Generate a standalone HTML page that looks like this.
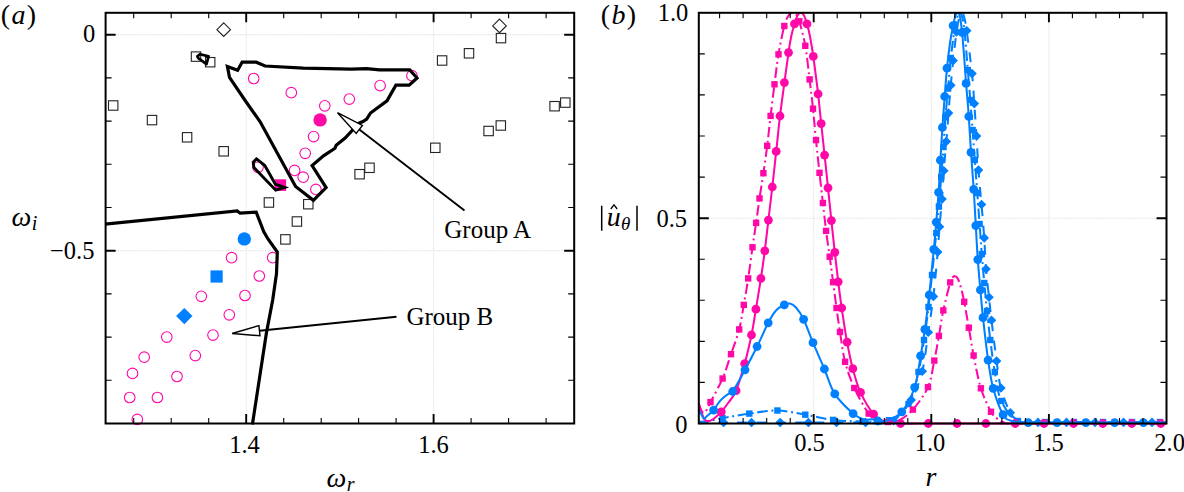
<!DOCTYPE html>
<html><head><meta charset="utf-8"><title>figure</title>
<style>html,body{margin:0;padding:0;background:#fff;}body{width:1184px;height:492px;overflow:hidden;}svg{display:block;font-family:"Liberation Serif",serif;}</style>
</head><body>
<svg width="1184" height="492" viewBox="0 0 1184 492">
<rect x="0" y="0" width="1184" height="492" fill="#ffffff"/>
<defs>
<clipPath id="ca"><rect x="105.6" y="12.8" width="468.6" height="417.7"/></clipPath>
<clipPath id="cb"><rect x="698.8" y="12.8" width="473.7" height="417.7"/></clipPath>
</defs>
<g id="plot-a">
<path d="M246.2 12.8 V423.5" stroke="#dadada" stroke-width="1" stroke-dasharray="1.2 1.25" fill="none"/>
<path d="M433.6 12.8 V423.5" stroke="#dadada" stroke-width="1" stroke-dasharray="1.2 1.25" fill="none"/>
<path d="M105.6 34.7 H574.2" stroke="#dadada" stroke-width="1" stroke-dasharray="1.2 1.25" fill="none"/>
<path d="M105.6 250.7 H574.2" stroke="#dadada" stroke-width="1" stroke-dasharray="1.2 1.25" fill="none"/>
<g clip-path="url(#ca)">
<rect x="108.5" y="100.8" width="9.4" height="9.4" fill="none" stroke="#222" stroke-width="1.1"/>
<rect x="147.3" y="115.4" width="9.4" height="9.4" fill="none" stroke="#222" stroke-width="1.1"/>
<rect x="182.4" y="132.6" width="9.4" height="9.4" fill="none" stroke="#222" stroke-width="1.1"/>
<rect x="219" y="146.6" width="9.4" height="9.4" fill="none" stroke="#222" stroke-width="1.1"/>
<rect x="191.3" y="51.9" width="9.4" height="9.4" fill="none" stroke="#222" stroke-width="1.1"/>
<rect x="205.5" y="57.5" width="9.4" height="9.4" fill="none" stroke="#222" stroke-width="1.1"/>
<rect x="264.2" y="197.8" width="9.4" height="9.4" fill="none" stroke="#222" stroke-width="1.1"/>
<rect x="303.6" y="199.5" width="9.4" height="9.4" fill="none" stroke="#222" stroke-width="1.1"/>
<rect x="292.2" y="216.8" width="9.4" height="9.4" fill="none" stroke="#222" stroke-width="1.1"/>
<rect x="280.7" y="234.7" width="9.4" height="9.4" fill="none" stroke="#222" stroke-width="1.1"/>
<rect x="354.9" y="169.5" width="9.4" height="9.4" fill="none" stroke="#222" stroke-width="1.1"/>
<rect x="364.8" y="163.1" width="9.4" height="9.4" fill="none" stroke="#222" stroke-width="1.1"/>
<rect x="430.6" y="143.1" width="9.4" height="9.4" fill="none" stroke="#222" stroke-width="1.1"/>
<rect x="483.9" y="126.3" width="9.4" height="9.4" fill="none" stroke="#222" stroke-width="1.1"/>
<rect x="496.1" y="120.8" width="9.4" height="9.4" fill="none" stroke="#222" stroke-width="1.1"/>
<rect x="437.4" y="55.8" width="9.4" height="9.4" fill="none" stroke="#222" stroke-width="1.1"/>
<rect x="464.3" y="48.6" width="9.4" height="9.4" fill="none" stroke="#222" stroke-width="1.1"/>
<rect x="496.3" y="33.4" width="9.4" height="9.4" fill="none" stroke="#222" stroke-width="1.1"/>
<rect x="549.9" y="101.5" width="9.4" height="9.4" fill="none" stroke="#222" stroke-width="1.1"/>
<rect x="560.6" y="97.9" width="9.4" height="9.4" fill="none" stroke="#222" stroke-width="1.1"/>
<path d="M223.7 22.9 l6.8 6.8 l-6.8 6.8 l-6.8 -6.8 Z" fill="none" stroke="#222" stroke-width="1.1"/>
<path d="M499.5 19.1 l6.8 6.8 l-6.8 6.8 l-6.8 -6.8 Z" fill="none" stroke="#222" stroke-width="1.1"/>
<circle cx="253.7" cy="78.5" r="5.3" fill="none" stroke="#ff08a8" stroke-width="1.1"/>
<circle cx="291.3" cy="92.7" r="5.3" fill="none" stroke="#ff08a8" stroke-width="1.1"/>
<circle cx="324.8" cy="105.8" r="5.3" fill="none" stroke="#ff08a8" stroke-width="1.1"/>
<circle cx="349.3" cy="99.1" r="5.3" fill="none" stroke="#ff08a8" stroke-width="1.1"/>
<circle cx="380.1" cy="85.6" r="5.3" fill="none" stroke="#ff08a8" stroke-width="1.1"/>
<circle cx="411.9" cy="75.7" r="5.3" fill="none" stroke="#ff08a8" stroke-width="1.1"/>
<circle cx="313.6" cy="136.6" r="5.3" fill="none" stroke="#ff08a8" stroke-width="1.1"/>
<circle cx="305.2" cy="153.3" r="5.3" fill="none" stroke="#ff08a8" stroke-width="1.1"/>
<circle cx="294.6" cy="170.4" r="5.3" fill="none" stroke="#ff08a8" stroke-width="1.1"/>
<circle cx="303.2" cy="177.2" r="5.3" fill="none" stroke="#ff08a8" stroke-width="1.1"/>
<circle cx="315.9" cy="189.4" r="5.3" fill="none" stroke="#ff08a8" stroke-width="1.1"/>
<circle cx="258" cy="167.3" r="5.3" fill="none" stroke="#ff08a8" stroke-width="1.1"/>
<circle cx="231.6" cy="257.7" r="5.3" fill="none" stroke="#ff08a8" stroke-width="1.1"/>
<circle cx="272.7" cy="257.7" r="5.3" fill="none" stroke="#ff08a8" stroke-width="1.1"/>
<circle cx="259.3" cy="276" r="5.3" fill="none" stroke="#ff08a8" stroke-width="1.1"/>
<circle cx="201.3" cy="296.3" r="5.3" fill="none" stroke="#ff08a8" stroke-width="1.1"/>
<circle cx="245" cy="295.5" r="5.3" fill="none" stroke="#ff08a8" stroke-width="1.1"/>
<circle cx="229.3" cy="314.8" r="5.3" fill="none" stroke="#ff08a8" stroke-width="1.1"/>
<circle cx="166.8" cy="337.1" r="5.3" fill="none" stroke="#ff08a8" stroke-width="1.1"/>
<circle cx="213" cy="335.1" r="5.3" fill="none" stroke="#ff08a8" stroke-width="1.1"/>
<circle cx="144.2" cy="357.2" r="5.3" fill="none" stroke="#ff08a8" stroke-width="1.1"/>
<circle cx="195.3" cy="355.6" r="5.3" fill="none" stroke="#ff08a8" stroke-width="1.1"/>
<circle cx="132.5" cy="373.4" r="5.3" fill="none" stroke="#ff08a8" stroke-width="1.1"/>
<circle cx="177" cy="376.5" r="5.3" fill="none" stroke="#ff08a8" stroke-width="1.1"/>
<circle cx="129.7" cy="397.5" r="5.3" fill="none" stroke="#ff08a8" stroke-width="1.1"/>
<circle cx="157.4" cy="397.5" r="5.3" fill="none" stroke="#ff08a8" stroke-width="1.1"/>
<circle cx="137.3" cy="419.4" r="5.3" fill="none" stroke="#ff08a8" stroke-width="1.1"/>
<path d="M227.4 66.4 L237.6 70.3 L242.2 62 L256.2 62.2 L265.1 66 L303.2 68.1 L351.5 69.1 L366.7 68.6 L379.4 69.9 L409.8 69.9 L417 78 L409.1 85.1 L395.9 85.1 L387 100.8 L370.5 113 L366.7 119 L362.9 121.6 L359 123.2 L345.1 138.1 L336.2 145.2 L335 148.3 L323.5 155.9 L312.1 165.5 L326.1 187.6 L313.4 200.3 L295.6 186.4 L260 121.6 L244.8 100 L229.5 77.5 Z" stroke="#000" stroke-width="3.2" fill="none" stroke-linejoin="miter" stroke-linecap="butt"/>
<path d="M197.3 56.4 L200.2 54.2 L208.6 56.4 L206.5 64.2 L198.3 58.2 Z" stroke="#000" stroke-width="2.7" fill="none" stroke-linejoin="round" stroke-linecap="butt"/>
<path d="M104 224.2 L237.2 210.9 L240.2 213.2 L256.2 212.2 L263.8 231.8 L268 239 L277.3 252.1 L276.5 273.7 L272.7 300 L266.4 333 L252.4 424.5" stroke="#000" stroke-width="3.2" fill="none" stroke-linejoin="miter" stroke-linecap="butt"/>
<rect x="274.5" y="179.3" width="11.6" height="11.6" fill="#ff08a8"/>
<path d="M256.5 158.9 L264.8 165.5 L275.4 184.2 L284.6 187.4 L275.7 190.2 L253.9 167.5 L253.2 162.2 Z" stroke="#000" stroke-width="2.9" fill="none" stroke-linejoin="miter" stroke-linecap="butt"/>
<circle cx="320.1" cy="119.9" r="6.7" fill="#ff08a8"/>
<circle cx="244.3" cy="238.9" r="6.7" fill="#0080ff"/>
<rect x="210.5" y="270.4" width="12.2" height="12.2" fill="#0080ff"/>
<path d="M184.3 307.9 l8.2 8.2 l-8.2 8.2 l-8.2 -8.2 Z" fill="#0080ff"/>
<path d="M359.3 129.5 L464.5 210.5" stroke="#000" stroke-width="1.9" fill="none"/>
<path d="M337.5 112.7 L356.2 133.5 L362.4 125.4 Z" stroke="#000" stroke-width="1.4" fill="#fff" stroke-linejoin="miter"/>
<path d="M259.5 330.7 L396.5 316.8" stroke="#000" stroke-width="1.9" fill="none"/>
<path d="M232.1 333.5 L260 335.8 L258.9 325.6 Z" stroke="#000" stroke-width="1.4" fill="#fff" stroke-linejoin="miter"/>
</g>
<path d="M133.7 12.8 v5.5 M133.7 423.5 v-5.5 M171.2 12.8 v5.5 M171.2 423.5 v-5.5 M208.7 12.8 v5.5 M208.7 423.5 v-5.5 M283.7 12.8 v5.5 M283.7 423.5 v-5.5 M321.2 12.8 v5.5 M321.2 423.5 v-5.5 M358.6 12.8 v5.5 M358.6 423.5 v-5.5 M396.1 12.8 v5.5 M396.1 423.5 v-5.5 M471.1 12.8 v5.5 M471.1 423.5 v-5.5 M508.6 12.8 v5.5 M508.6 423.5 v-5.5 M546.1 12.8 v5.5 M546.1 423.5 v-5.5 M105.6 77.9 h6 M574.2 77.9 h-6 M105.6 121.1 h6 M574.2 121.1 h-6 M105.6 164.3 h6 M574.2 164.3 h-6 M105.6 207.5 h6 M574.2 207.5 h-6 M105.6 293.9 h6 M574.2 293.9 h-6 M105.6 337.1 h6 M574.2 337.1 h-6 M105.6 380.3 h6 M574.2 380.3 h-6 M105.6 423.5 h6 M574.2 423.5 h-6" stroke="#000" stroke-width="1.1" fill="none"/>
<path d="M246.2 12.8 v9.5 M246.2 423.5 v-9.5 M433.6 12.8 v9.5 M433.6 423.5 v-9.5 M105.6 34.7 h10 M574.2 34.7 h-10 M105.6 250.7 h10 M574.2 250.7 h-10" stroke="#000" stroke-width="1.9" fill="none"/>
<rect x="105.6" y="12.8" width="468.6" height="410.7" fill="none" stroke="#000" stroke-width="2.0"/>
<g font-size="24.5" fill="#000">
<text x="0.8" y="24.3" font-size="28" letter-spacing="1.3">(<tspan font-style="italic">a</tspan>)</text>
<text x="95.2" y="42" text-anchor="end">0</text>
<text x="94.5" y="259.3" text-anchor="end">−0.5</text>
<text x="244.5" y="453" text-anchor="middle">1.4</text>
<text x="433.5" y="453" text-anchor="middle">1.6</text>
<text x="11.5" y="225.5" font-style="italic" font-size="28">ω<tspan font-size="20" dy="4.3" dx="0.5">i</tspan></text>
<text x="326.5" y="487" font-style="italic" font-size="28">ω<tspan font-size="20" dy="4.3" dx="0.5">r</tspan></text>
<text x="444.3" y="237.6" font-size="25">Group A</text>
<text x="406.4" y="325" font-size="25">Group B</text>
</g>
</g>
<g id="plot-b">
<path d="M813.7 12.8 V423.5" stroke="#dadada" stroke-width="1" stroke-dasharray="1.2 1.25" fill="none"/>
<path d="M931.3 12.8 V423.5" stroke="#dadada" stroke-width="1" stroke-dasharray="1.2 1.25" fill="none"/>
<path d="M1048.9 12.8 V423.5" stroke="#dadada" stroke-width="1" stroke-dasharray="1.2 1.25" fill="none"/>
<path d="M1166.5 12.8 V423.5" stroke="#dadada" stroke-width="1" stroke-dasharray="1.2 1.25" fill="none"/>
<path d="M698.8 218.2 H1166.5" stroke="#dadada" stroke-width="1" stroke-dasharray="1.2 1.25" fill="none"/>
<g clip-path="url(#cb)">
<path d="M698.7 421.8 C700.2 421.7 704 421.6 708 421 C712 420.4 715.6 419.4 722.5 418.2 C729.4 417 740.1 414.9 749.3 413.6 C758.4 412.3 768.1 410.3 777.4 410.5 C786.7 410.7 796 413.1 805.3 414.7 C814.6 416.3 823.6 418.8 833.1 419.9 C842.6 421 853.2 421.3 862.5 421.4 C871.8 421.4 881.3 423.1 889 420.2 C896.7 417.3 903.6 412 908.5 404 C913.4 396 915.9 382.7 918.5 372 C921.1 361.3 922.3 350.8 924 340 C925.7 329.2 927.2 317.8 928.5 307 C929.8 296.2 930.7 287.3 932 275 C933.3 262.7 935.1 244.5 936.3 233.1 C937.4 221.7 938.1 215.9 938.9 206.6 C939.7 197.2 940.4 186.9 941.2 177 C942 167.1 942.8 157 943.5 147 C944.2 137 944.6 126.9 945.4 117.2 C946.2 107.5 947.2 98.5 948.1 88.6 C949 78.7 949.6 68.3 950.8 58 C951.9 47.7 953.9 33.9 955 27 C956.1 20.1 956.7 18.9 957.5 16.5 C958.3 14.1 959 12.4 959.7 12.4 C960.5 12.4 961.2 13.4 962 16.5 C962.8 19.6 963.5 22.1 964.5 31 C965.5 39.9 966.8 58.5 967.8 70 C968.8 81.5 969.5 90 970.3 100 C971.1 110 971.8 120 972.6 130 C973.3 140 974 149.5 974.8 160 C975.6 170.5 976.5 182.3 977.3 193 C978.1 203.7 978.8 213.8 979.6 224 C980.3 234.2 981 244.2 981.8 254 C982.6 263.8 983.4 273.5 984.3 283 C985.2 292.5 986 301.5 987 311 C988 320.5 989 329.8 990.3 340 C991.6 350.2 993 361.8 994.8 372 C996.6 382.2 997.4 392.8 1001.3 401 C1005.2 409.2 1010.7 417.5 1018 421 C1025.3 424.5 1035.7 421.8 1045 422 C1054.3 422.2 1064.3 422 1074 422 C1083.7 422 1093.3 422 1103 422 C1112.7 422 1122.5 422 1132 422 C1141.5 422 1154.2 422 1160 422 C1165.8 422 1165.4 422 1166.5 422" fill="none" stroke="#0080ff" stroke-width="2.05" stroke-dasharray="10.5 3.7 1.9 3.7"/>
<rect x="719.3" y="415" width="6.4" height="6.4" fill="#0080ff"/>
<rect x="746.1" y="410.4" width="6.4" height="6.4" fill="#0080ff"/>
<rect x="774.2" y="407.3" width="6.4" height="6.4" fill="#0080ff"/>
<rect x="802.1" y="411.5" width="6.4" height="6.4" fill="#0080ff"/>
<rect x="829.9" y="416.7" width="6.4" height="6.4" fill="#0080ff"/>
<rect x="859.3" y="418.2" width="6.4" height="6.4" fill="#0080ff"/>
<rect x="885.8" y="417" width="6.4" height="6.4" fill="#0080ff"/>
<rect x="905.3" y="400.8" width="6.4" height="6.4" fill="#0080ff"/>
<rect x="915.3" y="368.8" width="6.4" height="6.4" fill="#0080ff"/>
<rect x="920.8" y="336.8" width="6.4" height="6.4" fill="#0080ff"/>
<rect x="925.3" y="303.8" width="6.4" height="6.4" fill="#0080ff"/>
<rect x="928.8" y="271.8" width="6.4" height="6.4" fill="#0080ff"/>
<rect x="933.1" y="229.9" width="6.4" height="6.4" fill="#0080ff"/>
<rect x="935.7" y="203.4" width="6.4" height="6.4" fill="#0080ff"/>
<rect x="938" y="173.8" width="6.4" height="6.4" fill="#0080ff"/>
<rect x="940.3" y="143.8" width="6.4" height="6.4" fill="#0080ff"/>
<rect x="942.2" y="114" width="6.4" height="6.4" fill="#0080ff"/>
<rect x="944.9" y="85.4" width="6.4" height="6.4" fill="#0080ff"/>
<rect x="947.6" y="54.8" width="6.4" height="6.4" fill="#0080ff"/>
<rect x="951.8" y="23.8" width="6.4" height="6.4" fill="#0080ff"/>
<rect x="961.3" y="27.8" width="6.4" height="6.4" fill="#0080ff"/>
<rect x="964.6" y="66.8" width="6.4" height="6.4" fill="#0080ff"/>
<rect x="967.1" y="96.8" width="6.4" height="6.4" fill="#0080ff"/>
<rect x="969.4" y="126.8" width="6.4" height="6.4" fill="#0080ff"/>
<rect x="971.6" y="156.8" width="6.4" height="6.4" fill="#0080ff"/>
<rect x="974.1" y="189.8" width="6.4" height="6.4" fill="#0080ff"/>
<rect x="976.4" y="220.8" width="6.4" height="6.4" fill="#0080ff"/>
<rect x="978.6" y="250.8" width="6.4" height="6.4" fill="#0080ff"/>
<rect x="981.1" y="279.8" width="6.4" height="6.4" fill="#0080ff"/>
<rect x="983.8" y="307.8" width="6.4" height="6.4" fill="#0080ff"/>
<rect x="987.1" y="336.8" width="6.4" height="6.4" fill="#0080ff"/>
<rect x="991.6" y="368.8" width="6.4" height="6.4" fill="#0080ff"/>
<rect x="998.1" y="397.8" width="6.4" height="6.4" fill="#0080ff"/>
<rect x="1014.8" y="417.8" width="6.4" height="6.4" fill="#0080ff"/>
<rect x="1041.8" y="418.8" width="6.4" height="6.4" fill="#0080ff"/>
<rect x="1070.8" y="418.8" width="6.4" height="6.4" fill="#0080ff"/>
<rect x="1099.8" y="418.8" width="6.4" height="6.4" fill="#0080ff"/>
<rect x="1128.8" y="418.8" width="6.4" height="6.4" fill="#0080ff"/>
<rect x="1156.8" y="418.8" width="6.4" height="6.4" fill="#0080ff"/>
<path d="M698.7 423.3 C702.9 423.2 714.8 422.6 723.6 422.5 C732.4 422.4 742.1 422.5 751.5 422.5 C760.9 422.5 770.7 422.5 780.2 422.5 C789.7 422.5 799 422.5 808.4 422.5 C817.8 422.5 827 422.5 836.5 422.5 C846 422.5 858.4 422.3 865.6 422.5 C872.9 422.7 875.4 423.8 880 423.5 C884.6 423.2 888.3 424.7 893.5 420.8 C898.7 416.9 906.4 408.2 911.2 399.9 C916 391.6 919.4 382.5 922.3 371.2 C925.1 359.9 926.4 344.8 928.3 332.3 C930.1 319.8 931.8 309.8 933.4 296.4 C935 283 936.7 263.6 937.7 252 C938.7 240.4 938.8 235.5 939.5 226.7 C940.2 217.9 941.3 208.4 942 199.1 C942.7 189.8 943.1 180.3 943.8 170.7 C944.5 161.1 945.5 151.1 946.3 141.5 C947.1 131.9 947.8 122.5 948.5 113.1 C949.2 103.7 950 94 950.8 85.2 C951.6 76.5 952.1 69.5 953.1 60.6 C954.1 51.7 955.5 39 956.5 32 C957.5 25 958.2 21.7 959 18.5 C959.8 15.3 960.7 12.9 961.5 12.6 C962.3 12.3 963.1 13.5 964 16.5 C964.9 19.5 965.4 21.2 966.7 30.7 C968 40.2 970.7 61.4 972 73.6 C973.3 85.8 973.5 93.2 974.3 103.6 C975 114 975.8 125 976.5 136.1 C977.2 147.2 977.7 158.7 978.5 170.1 C979.3 181.5 980.5 193.2 981.5 204.5 C982.5 215.8 983.5 227.2 984.2 237.9 C985 248.7 985.2 259.1 986 269 C986.8 278.9 988.1 288.6 989 297.2 C989.9 305.8 990.2 309.7 991.5 320.3 C992.8 330.9 995 349.7 996.6 361 C998.2 372.3 998.6 379.4 1000.9 388 C1003.2 396.6 1007.3 407.3 1010.3 412.7 C1013.3 418.1 1014.4 418.7 1019 420.3 C1023.6 421.9 1030.1 422 1038 422.4 C1045.9 422.8 1057 422.4 1066.5 422.4 C1076 422.4 1085.5 422.4 1095 422.4 C1104.5 422.4 1114 422.4 1123.5 422.4 C1133 422.4 1144.8 422.4 1152 422.4 C1159.2 422.4 1164.1 422.4 1166.5 422.4" fill="none" stroke="#0080ff" stroke-width="2.05" stroke-dasharray="9.8 9.5"/>
<path d="M723.6 417.7 l4.8 4.8 l-4.8 4.8 l-4.8 -4.8 Z" fill="#0080ff"/>
<path d="M751.5 417.7 l4.8 4.8 l-4.8 4.8 l-4.8 -4.8 Z" fill="#0080ff"/>
<path d="M780.2 417.7 l4.8 4.8 l-4.8 4.8 l-4.8 -4.8 Z" fill="#0080ff"/>
<path d="M808.4 417.7 l4.8 4.8 l-4.8 4.8 l-4.8 -4.8 Z" fill="#0080ff"/>
<path d="M836.5 417.7 l4.8 4.8 l-4.8 4.8 l-4.8 -4.8 Z" fill="#0080ff"/>
<path d="M865.6 417.7 l4.8 4.8 l-4.8 4.8 l-4.8 -4.8 Z" fill="#0080ff"/>
<path d="M893.5 416 l4.8 4.8 l-4.8 4.8 l-4.8 -4.8 Z" fill="#0080ff"/>
<path d="M911.2 395.1 l4.8 4.8 l-4.8 4.8 l-4.8 -4.8 Z" fill="#0080ff"/>
<path d="M922.3 366.4 l4.8 4.8 l-4.8 4.8 l-4.8 -4.8 Z" fill="#0080ff"/>
<path d="M928.3 327.5 l4.8 4.8 l-4.8 4.8 l-4.8 -4.8 Z" fill="#0080ff"/>
<path d="M933.4 291.6 l4.8 4.8 l-4.8 4.8 l-4.8 -4.8 Z" fill="#0080ff"/>
<path d="M937.7 247.2 l4.8 4.8 l-4.8 4.8 l-4.8 -4.8 Z" fill="#0080ff"/>
<path d="M939.5 221.9 l4.8 4.8 l-4.8 4.8 l-4.8 -4.8 Z" fill="#0080ff"/>
<path d="M942 194.3 l4.8 4.8 l-4.8 4.8 l-4.8 -4.8 Z" fill="#0080ff"/>
<path d="M943.8 165.9 l4.8 4.8 l-4.8 4.8 l-4.8 -4.8 Z" fill="#0080ff"/>
<path d="M946.3 136.7 l4.8 4.8 l-4.8 4.8 l-4.8 -4.8 Z" fill="#0080ff"/>
<path d="M948.5 108.3 l4.8 4.8 l-4.8 4.8 l-4.8 -4.8 Z" fill="#0080ff"/>
<path d="M950.8 80.4 l4.8 4.8 l-4.8 4.8 l-4.8 -4.8 Z" fill="#0080ff"/>
<path d="M953.1 55.8 l4.8 4.8 l-4.8 4.8 l-4.8 -4.8 Z" fill="#0080ff"/>
<path d="M956.5 27.2 l4.8 4.8 l-4.8 4.8 l-4.8 -4.8 Z" fill="#0080ff"/>
<path d="M966.7 25.9 l4.8 4.8 l-4.8 4.8 l-4.8 -4.8 Z" fill="#0080ff"/>
<path d="M972 68.8 l4.8 4.8 l-4.8 4.8 l-4.8 -4.8 Z" fill="#0080ff"/>
<path d="M974.3 98.8 l4.8 4.8 l-4.8 4.8 l-4.8 -4.8 Z" fill="#0080ff"/>
<path d="M976.5 131.3 l4.8 4.8 l-4.8 4.8 l-4.8 -4.8 Z" fill="#0080ff"/>
<path d="M978.5 165.3 l4.8 4.8 l-4.8 4.8 l-4.8 -4.8 Z" fill="#0080ff"/>
<path d="M981.5 199.7 l4.8 4.8 l-4.8 4.8 l-4.8 -4.8 Z" fill="#0080ff"/>
<path d="M984.2 233.1 l4.8 4.8 l-4.8 4.8 l-4.8 -4.8 Z" fill="#0080ff"/>
<path d="M986 264.2 l4.8 4.8 l-4.8 4.8 l-4.8 -4.8 Z" fill="#0080ff"/>
<path d="M989 292.4 l4.8 4.8 l-4.8 4.8 l-4.8 -4.8 Z" fill="#0080ff"/>
<path d="M991.5 315.5 l4.8 4.8 l-4.8 4.8 l-4.8 -4.8 Z" fill="#0080ff"/>
<path d="M996.6 356.2 l4.8 4.8 l-4.8 4.8 l-4.8 -4.8 Z" fill="#0080ff"/>
<path d="M1000.9 383.2 l4.8 4.8 l-4.8 4.8 l-4.8 -4.8 Z" fill="#0080ff"/>
<path d="M1010.3 407.9 l4.8 4.8 l-4.8 4.8 l-4.8 -4.8 Z" fill="#0080ff"/>
<path d="M1038 417.6 l4.8 4.8 l-4.8 4.8 l-4.8 -4.8 Z" fill="#0080ff"/>
<path d="M1066.5 417.6 l4.8 4.8 l-4.8 4.8 l-4.8 -4.8 Z" fill="#0080ff"/>
<path d="M1095 417.6 l4.8 4.8 l-4.8 4.8 l-4.8 -4.8 Z" fill="#0080ff"/>
<path d="M1123.5 417.6 l4.8 4.8 l-4.8 4.8 l-4.8 -4.8 Z" fill="#0080ff"/>
<path d="M1152 417.6 l4.8 4.8 l-4.8 4.8 l-4.8 -4.8 Z" fill="#0080ff"/>
<path d="M698.7 403.5 C699.2 404.7 700.6 408.9 701.5 410.5 C702.4 412.1 703.1 413.2 704 413 C704.9 412.8 705.9 411.3 707 409.5 C708.1 407.7 707.9 407.3 710.5 402.1 C713.1 396.9 719.2 386.5 722.6 378.5 C726 370.5 728.2 362.4 731 354.2 C733.8 346 737.1 337.6 739.2 329.4 C741.3 321.2 742.3 313.4 743.8 304.9 C745.3 296.4 746.8 288 748.2 278.4 C749.7 268.8 751.2 256.6 752.5 247.3 C753.8 238.1 754.9 231.1 756.1 222.9 C757.3 214.8 758.3 206.7 759.5 198.4 C760.7 190.1 762.1 182 763.4 173.2 C764.7 164.4 766 155.4 767.2 145.8 C768.4 136.2 769.4 126.2 770.6 115.9 C771.8 105.7 773.2 94.6 774.5 84.3 C775.8 74 776.9 64 778.5 54.3 C780.1 44.6 782.6 32.5 784.3 26 C786 19.5 787.1 17.8 788.5 15.5 C789.9 13.2 791.2 12.6 792.5 12.4 C793.8 12.2 794.9 13 796 14.5 C797.1 16 797.8 16.1 799.3 21.3 C800.8 26.5 803.6 36.1 805.3 45.8 C807 55.5 808.3 68.9 809.6 79.4 C810.9 89.9 811.9 98.6 813 108.7 C814.1 118.8 814.9 129.4 816 140.1 C817.1 150.8 818.4 162.3 819.5 172.8 C820.6 183.3 821.8 193.3 822.9 203 C824 212.7 825 222 826.1 230.9 C827.2 239.8 828.5 248.1 829.7 256.7 C830.9 265.2 832 273.6 833.1 282.2 C834.2 290.8 835.4 299.7 836.5 308 C837.6 316.3 838.6 323 840 332 C841.4 341 842.7 352.5 845.1 361.8 C847.5 371.1 850.4 379.4 854.3 388 C858.2 396.6 864.8 408.2 868.7 413.6 C872.7 419 874.8 419 878 420.5 C881.2 422 884.5 422.6 888 422.6 C891.5 422.6 894.9 422.7 899 420.5 C903.1 418.3 908.1 415.2 912.9 409.6 C917.7 404 924.4 395.3 928 387.1 C931.6 378.9 932.5 369.1 934.3 360.6 C936.1 352.1 937.4 344.3 938.9 335.9 C940.4 327.5 941.4 319.3 943.3 310.4 C945.2 301.5 948.7 287.9 950.2 282.4 C951.7 276.9 951.7 278.5 952.5 277.5 C953.3 276.5 954.1 275.9 955 276.2 C955.9 276.4 957 277 958 279 C959 281 960 284.2 961 288 C962 291.8 962.9 295.2 964.2 301.8 C965.5 308.4 967.2 318.8 968.8 327.7 C970.4 336.6 971.6 345.4 973.6 355.5 C975.6 365.6 978 378.9 980.9 388.3 C983.8 397.7 988.3 406.8 991 411.8 C993.7 416.8 994.8 416.7 997 418.5 C999.2 420.3 1001 421.7 1004 422.5 C1007 423.3 987.9 423.3 1015 423.5 C1042.1 423.7 1141.2 423.5 1166.5 423.5" fill="none" stroke="#ff08a8" stroke-width="2.05" stroke-dasharray="10.5 3.7 1.9 3.7"/>
<rect x="707.3" y="398.9" width="6.4" height="6.4" fill="#ff08a8"/>
<rect x="719.4" y="375.3" width="6.4" height="6.4" fill="#ff08a8"/>
<rect x="727.8" y="351" width="6.4" height="6.4" fill="#ff08a8"/>
<rect x="736" y="326.2" width="6.4" height="6.4" fill="#ff08a8"/>
<rect x="740.6" y="301.7" width="6.4" height="6.4" fill="#ff08a8"/>
<rect x="745" y="275.2" width="6.4" height="6.4" fill="#ff08a8"/>
<rect x="749.3" y="244.1" width="6.4" height="6.4" fill="#ff08a8"/>
<rect x="752.9" y="219.7" width="6.4" height="6.4" fill="#ff08a8"/>
<rect x="756.3" y="195.2" width="6.4" height="6.4" fill="#ff08a8"/>
<rect x="760.2" y="170" width="6.4" height="6.4" fill="#ff08a8"/>
<rect x="764" y="142.6" width="6.4" height="6.4" fill="#ff08a8"/>
<rect x="767.4" y="112.7" width="6.4" height="6.4" fill="#ff08a8"/>
<rect x="771.3" y="81.1" width="6.4" height="6.4" fill="#ff08a8"/>
<rect x="775.3" y="51.1" width="6.4" height="6.4" fill="#ff08a8"/>
<rect x="781.1" y="22.8" width="6.4" height="6.4" fill="#ff08a8"/>
<rect x="796.1" y="18.1" width="6.4" height="6.4" fill="#ff08a8"/>
<rect x="802.1" y="42.6" width="6.4" height="6.4" fill="#ff08a8"/>
<rect x="806.4" y="76.2" width="6.4" height="6.4" fill="#ff08a8"/>
<rect x="809.8" y="105.5" width="6.4" height="6.4" fill="#ff08a8"/>
<rect x="812.8" y="136.9" width="6.4" height="6.4" fill="#ff08a8"/>
<rect x="816.3" y="169.6" width="6.4" height="6.4" fill="#ff08a8"/>
<rect x="819.7" y="199.8" width="6.4" height="6.4" fill="#ff08a8"/>
<rect x="822.9" y="227.7" width="6.4" height="6.4" fill="#ff08a8"/>
<rect x="826.5" y="253.5" width="6.4" height="6.4" fill="#ff08a8"/>
<rect x="829.9" y="279" width="6.4" height="6.4" fill="#ff08a8"/>
<rect x="833.3" y="304.8" width="6.4" height="6.4" fill="#ff08a8"/>
<rect x="836.8" y="328.8" width="6.4" height="6.4" fill="#ff08a8"/>
<rect x="841.9" y="358.6" width="6.4" height="6.4" fill="#ff08a8"/>
<rect x="851.1" y="384.8" width="6.4" height="6.4" fill="#ff08a8"/>
<rect x="865.5" y="410.4" width="6.4" height="6.4" fill="#ff08a8"/>
<rect x="884.8" y="418.8" width="6.4" height="6.4" fill="#ff08a8"/>
<rect x="909.7" y="406.4" width="6.4" height="6.4" fill="#ff08a8"/>
<rect x="924.8" y="383.9" width="6.4" height="6.4" fill="#ff08a8"/>
<rect x="931.1" y="357.4" width="6.4" height="6.4" fill="#ff08a8"/>
<rect x="935.7" y="332.7" width="6.4" height="6.4" fill="#ff08a8"/>
<rect x="940.1" y="307.2" width="6.4" height="6.4" fill="#ff08a8"/>
<rect x="947" y="279.2" width="6.4" height="6.4" fill="#ff08a8"/>
<rect x="961" y="298.6" width="6.4" height="6.4" fill="#ff08a8"/>
<rect x="965.6" y="324.5" width="6.4" height="6.4" fill="#ff08a8"/>
<rect x="970.4" y="352.3" width="6.4" height="6.4" fill="#ff08a8"/>
<rect x="977.7" y="385.1" width="6.4" height="6.4" fill="#ff08a8"/>
<rect x="987.8" y="408.6" width="6.4" height="6.4" fill="#ff08a8"/>
<path d="M698.7 403.5 C699.2 405 700.5 409.9 701.5 412.5 C702.5 415.1 703.5 417.9 704.5 419.3 C705.5 420.8 706.2 421.1 707.5 421.2 C708.8 421.3 710.5 420.6 712 419.8 C713.5 419 715 417.8 716.5 416.5 C718 415.2 719.3 414.1 721.3 411.8 C723.3 409.5 726 406 728.5 402.5 C731 399 733.4 397.1 736.1 390.6 C738.8 384.1 742.1 372.9 744.7 363.6 C747.3 354.3 749.6 344.1 751.5 335 C753.4 325.9 754.3 318.6 755.9 309.2 C757.5 299.8 759.4 288.1 760.9 278.4 C762.4 268.7 763.5 260.5 764.8 250.8 C766 241.1 767.1 230.7 768.4 220.1 C769.6 209.5 771 198.4 772.3 187 C773.6 175.6 774.9 163.2 776.2 151.4 C777.5 139.6 778.6 127.5 780 116 C781.4 104.5 783 93.2 784.4 82.6 C785.8 72 787.4 60.4 788.5 52.6 C789.6 44.8 790.3 40.8 791.3 36 C792.3 31.2 793.5 27.3 794.5 23.9 C795.5 20.5 796.5 17.4 797.5 15.5 C798.5 13.6 799.6 12.4 800.7 12.4 C801.8 12.4 803 13.6 804 15.5 C805 17.4 806 20.4 807 23.9 C808 27.4 809 31.1 810 36.5 C811 41.9 811.9 46.8 813.3 56.4 C814.6 66 816.8 82.8 818.1 94 C819.4 105.2 820.1 113.4 821.2 123.6 C822.3 133.8 823.5 144.4 824.6 155.1 C825.7 165.8 826.9 176.9 828 187.8 C829.1 198.7 830.3 209.8 831.4 220.6 C832.5 231.3 833.7 242.1 834.8 252.3 C835.9 262.5 837.1 272.5 838.2 281.8 C839.4 291.1 840.2 297.9 841.7 308 C843.2 318.1 845.2 332.1 847.1 342.2 C849 352.3 850.6 360.3 852.8 368.7 C855 377.1 857 384.8 860.5 392.4 C864 400 869.5 409.2 873.6 414.1 C877.7 419 880.5 420 885 421.6 C889.5 423.2 893.3 423.2 900.5 423.5 C907.7 423.8 918.9 423.5 928.3 423.5 C937.7 423.5 947.4 423.5 957 423.5 C966.6 423.5 976.2 423.5 985.9 423.5 C995.6 423.5 1005.5 423.5 1015.2 423.5 C1024.9 423.5 1034.3 423.5 1044 423.5 C1053.7 423.5 1063.7 423.5 1073.5 423.5 C1083.3 423.5 1093.1 423.5 1102.8 423.5 C1112.5 423.5 1122.1 423.5 1131.8 423.5 C1141.5 423.5 1155 423.5 1160.8 423.5 C1166.6 423.5 1165.5 423.5 1166.5 423.5" fill="none" stroke="#ff08a8" stroke-width="2.05"/>
<circle cx="721.3" cy="411.8" r="4.4" fill="#ff08a8"/>
<circle cx="736.1" cy="390.6" r="4.4" fill="#ff08a8"/>
<circle cx="744.7" cy="363.6" r="4.4" fill="#ff08a8"/>
<circle cx="751.5" cy="335" r="4.4" fill="#ff08a8"/>
<circle cx="755.9" cy="309.2" r="4.4" fill="#ff08a8"/>
<circle cx="760.9" cy="278.4" r="4.4" fill="#ff08a8"/>
<circle cx="764.8" cy="250.8" r="4.4" fill="#ff08a8"/>
<circle cx="768.4" cy="220.1" r="4.4" fill="#ff08a8"/>
<circle cx="772.3" cy="187" r="4.4" fill="#ff08a8"/>
<circle cx="776.2" cy="151.4" r="4.4" fill="#ff08a8"/>
<circle cx="780" cy="116" r="4.4" fill="#ff08a8"/>
<circle cx="784.4" cy="82.6" r="4.4" fill="#ff08a8"/>
<circle cx="788.5" cy="52.6" r="4.4" fill="#ff08a8"/>
<circle cx="794.5" cy="23.9" r="4.4" fill="#ff08a8"/>
<circle cx="807" cy="23.9" r="4.4" fill="#ff08a8"/>
<circle cx="813.3" cy="56.4" r="4.4" fill="#ff08a8"/>
<circle cx="818.1" cy="94" r="4.4" fill="#ff08a8"/>
<circle cx="821.2" cy="123.6" r="4.4" fill="#ff08a8"/>
<circle cx="824.6" cy="155.1" r="4.4" fill="#ff08a8"/>
<circle cx="828" cy="187.8" r="4.4" fill="#ff08a8"/>
<circle cx="831.4" cy="220.6" r="4.4" fill="#ff08a8"/>
<circle cx="834.8" cy="252.3" r="4.4" fill="#ff08a8"/>
<circle cx="838.2" cy="281.8" r="4.4" fill="#ff08a8"/>
<circle cx="841.7" cy="308" r="4.4" fill="#ff08a8"/>
<circle cx="847.1" cy="342.2" r="4.4" fill="#ff08a8"/>
<circle cx="852.8" cy="368.7" r="4.4" fill="#ff08a8"/>
<circle cx="860.5" cy="392.4" r="4.4" fill="#ff08a8"/>
<circle cx="873.6" cy="414.1" r="4.4" fill="#ff08a8"/>
<circle cx="900.5" cy="423.5" r="4.4" fill="#ff08a8"/>
<circle cx="928.3" cy="423.5" r="4.4" fill="#ff08a8"/>
<circle cx="957" cy="423.5" r="4.4" fill="#ff08a8"/>
<circle cx="985.9" cy="423.5" r="4.4" fill="#ff08a8"/>
<circle cx="1015.2" cy="423.5" r="4.4" fill="#ff08a8"/>
<circle cx="1044" cy="423.5" r="4.4" fill="#ff08a8"/>
<circle cx="1073.5" cy="423.5" r="4.4" fill="#ff08a8"/>
<circle cx="1102.8" cy="423.5" r="4.4" fill="#ff08a8"/>
<circle cx="1131.8" cy="423.5" r="4.4" fill="#ff08a8"/>
<circle cx="1160.8" cy="423.5" r="4.4" fill="#ff08a8"/>
<path d="M698.7 409.8 C699.2 410.6 700.6 413.3 701.5 414.8 C702.4 416.3 703.1 418.6 704 418.8 C704.9 419.1 705.2 417.8 706.8 416.3 C708.4 414.9 711.7 412.2 713.6 410.1 C715.5 408 716.5 405.5 718 403.5 C719.5 401.5 720.9 399.9 722.7 398.3 C724.5 396.7 727.1 394.7 728.8 393.6 C730.5 392.5 730 395.5 732.7 391.5 C735.4 387.5 740.9 377.3 745 369.8 C749.1 362.3 753.2 354.3 757.1 346.5 C761 338.7 765.1 328.8 768.2 322.8 C771.4 316.8 773.3 313.5 776 310.5 C778.7 307.5 782 306 784.3 304.9 C786.6 303.8 787.9 303.2 789.9 303.6 C791.9 304 793.7 304.9 796 307.5 C798.3 310.1 800.8 313.4 803.6 319.3 C806.4 325.2 809.5 334.4 813 342.7 C816.5 351 820.8 360.5 824.4 369 C828 377.5 830 386.5 834.8 393.9 C839.6 401.3 848.2 409.3 853.1 413.6 C858 417.9 860.9 418.6 864 419.5 C867.1 420.4 869.3 418.9 872 419.2 C874.7 419.5 877.3 421 880 421.2 C882.7 421.4 884.4 421.9 888 420.3 C891.6 418.7 897.3 417.3 901.8 411.8 C906.2 406.3 911.6 396.6 914.7 387.3 C917.8 378 918.9 365.5 920.6 355.9 C922.3 346.2 923.5 339.5 924.9 329.4 C926.3 319.2 927.7 308.3 929.2 295 C930.7 281.7 932.6 261.5 933.8 249.4 C935 237.3 935.5 231.7 936.3 222.2 C937.1 212.7 937.9 202.6 938.6 192.3 C939.3 182 939.8 171 940.4 160.2 C941 149.4 941.7 138.1 942.4 127.5 C943.1 116.9 943.9 106.4 944.7 96.5 C945.5 86.6 946.1 77.1 947 68.2 C947.9 59.3 949 50.1 950 43 C951 35.9 952.2 30.2 953.1 25.6 C954 21 954.7 17.7 955.5 15.5 C956.3 13.3 957 12.2 957.7 12.4 C958.5 12.7 959.3 13.7 960 17 C960.7 20.4 961.4 26.2 962.1 32.5 C962.8 38.8 963.3 46.5 964 55 C964.7 63.5 965.3 73.2 966.1 83.4 C966.9 93.7 968 105 968.8 116.5 C969.6 128 970.2 140.3 971 152.4 C971.8 164.5 972.9 177.1 973.7 189.3 C974.5 201.5 975.1 213.9 975.8 225.6 C976.5 237.3 977 248.9 977.8 259.6 C978.6 270.3 979.5 280.2 980.4 289.9 C981.3 299.6 981.7 306 983 317.7 C984.3 329.4 986.4 348.3 988.1 360.1 C989.8 371.9 990.7 379.2 993.2 388.3 C995.7 397.4 1000 409.2 1003.1 414.7 C1006.2 420.1 1007.8 419.7 1012 421 C1016.2 422.3 1020.7 422.3 1028.2 422.6 C1035.7 422.9 1047.4 422.6 1057 422.6 C1066.6 422.6 1076.2 422.6 1085.8 422.6 C1095.4 422.6 1105 422.6 1114.6 422.6 C1124.2 422.6 1134.8 422.6 1143.4 422.6 C1152.1 422.6 1162.7 422.6 1166.5 422.6" fill="none" stroke="#0080ff" stroke-width="2.05"/>
<circle cx="713.6" cy="410.1" r="4.4" fill="#0080ff"/>
<circle cx="732.7" cy="391.5" r="4.4" fill="#0080ff"/>
<circle cx="745" cy="369.8" r="4.4" fill="#0080ff"/>
<circle cx="757.1" cy="346.5" r="4.4" fill="#0080ff"/>
<circle cx="768.2" cy="322.8" r="4.4" fill="#0080ff"/>
<circle cx="784.3" cy="304.9" r="4.4" fill="#0080ff"/>
<circle cx="803.6" cy="319.3" r="4.4" fill="#0080ff"/>
<circle cx="813" cy="342.7" r="4.4" fill="#0080ff"/>
<circle cx="824.4" cy="369" r="4.4" fill="#0080ff"/>
<circle cx="834.8" cy="393.9" r="4.4" fill="#0080ff"/>
<circle cx="853.1" cy="413.6" r="4.4" fill="#0080ff"/>
<circle cx="877.9" cy="421" r="4.4" fill="#0080ff"/>
<circle cx="901.8" cy="411.8" r="4.4" fill="#0080ff"/>
<circle cx="914.7" cy="387.3" r="4.4" fill="#0080ff"/>
<circle cx="920.6" cy="355.9" r="4.4" fill="#0080ff"/>
<circle cx="924.9" cy="329.4" r="4.4" fill="#0080ff"/>
<circle cx="929.2" cy="295" r="4.4" fill="#0080ff"/>
<circle cx="933.8" cy="249.4" r="4.4" fill="#0080ff"/>
<circle cx="936.3" cy="222.2" r="4.4" fill="#0080ff"/>
<circle cx="938.6" cy="192.3" r="4.4" fill="#0080ff"/>
<circle cx="940.4" cy="160.2" r="4.4" fill="#0080ff"/>
<circle cx="942.4" cy="127.5" r="4.4" fill="#0080ff"/>
<circle cx="944.7" cy="96.5" r="4.4" fill="#0080ff"/>
<circle cx="947" cy="68.2" r="4.4" fill="#0080ff"/>
<circle cx="953.1" cy="25.6" r="4.4" fill="#0080ff"/>
<circle cx="962.1" cy="32.5" r="4.4" fill="#0080ff"/>
<circle cx="966.1" cy="83.4" r="4.4" fill="#0080ff"/>
<circle cx="968.8" cy="116.5" r="4.4" fill="#0080ff"/>
<circle cx="971" cy="152.4" r="4.4" fill="#0080ff"/>
<circle cx="973.7" cy="189.3" r="4.4" fill="#0080ff"/>
<circle cx="975.8" cy="225.6" r="4.4" fill="#0080ff"/>
<circle cx="977.8" cy="259.6" r="4.4" fill="#0080ff"/>
<circle cx="980.4" cy="289.9" r="4.4" fill="#0080ff"/>
<circle cx="983" cy="317.7" r="4.4" fill="#0080ff"/>
<circle cx="988.1" cy="360.1" r="4.4" fill="#0080ff"/>
<circle cx="993.2" cy="388.3" r="4.4" fill="#0080ff"/>
<circle cx="1003.1" cy="414.7" r="4.4" fill="#0080ff"/>
<circle cx="1028.2" cy="422.6" r="4.4" fill="#0080ff"/>
<circle cx="1057" cy="422.6" r="4.4" fill="#0080ff"/>
<circle cx="1085.8" cy="422.6" r="4.4" fill="#0080ff"/>
<circle cx="1114.6" cy="422.6" r="4.4" fill="#0080ff"/>
<circle cx="1143.4" cy="422.6" r="4.4" fill="#0080ff"/>
</g>
<path d="M719.6 12.8 v5.5 M719.6 423.5 v-5.5 M743.1 12.8 v5.5 M743.1 423.5 v-5.5 M766.7 12.8 v5.5 M766.7 423.5 v-5.5 M790.2 12.8 v5.5 M790.2 423.5 v-5.5 M837.2 12.8 v5.5 M837.2 423.5 v-5.5 M860.7 12.8 v5.5 M860.7 423.5 v-5.5 M884.3 12.8 v5.5 M884.3 423.5 v-5.5 M907.8 12.8 v5.5 M907.8 423.5 v-5.5 M954.8 12.8 v5.5 M954.8 423.5 v-5.5 M978.3 12.8 v5.5 M978.3 423.5 v-5.5 M1001.9 12.8 v5.5 M1001.9 423.5 v-5.5 M1025.4 12.8 v5.5 M1025.4 423.5 v-5.5 M1072.4 12.8 v5.5 M1072.4 423.5 v-5.5 M1095.9 12.8 v5.5 M1095.9 423.5 v-5.5 M1119.5 12.8 v5.5 M1119.5 423.5 v-5.5 M1143 12.8 v5.5 M1143 423.5 v-5.5 M698.8 382.4 h6 M1166.5 382.4 h-6 M698.8 341.4 h6 M1166.5 341.4 h-6 M698.8 300.3 h6 M1166.5 300.3 h-6 M698.8 259.2 h6 M1166.5 259.2 h-6 M698.8 177.1 h6 M1166.5 177.1 h-6 M698.8 136 h6 M1166.5 136 h-6 M698.8 94.9 h6 M1166.5 94.9 h-6 M698.8 53.9 h6 M1166.5 53.9 h-6" stroke="#000" stroke-width="1.1" fill="none"/>
<path d="M813.7 12.8 v9.5 M813.7 423.5 v-9.5 M931.3 12.8 v9.5 M931.3 423.5 v-9.5 M1048.9 12.8 v9.5 M1048.9 423.5 v-9.5 M698.8 218.2 h10 M1166.5 218.2 h-10" stroke="#000" stroke-width="1.9" fill="none"/>
<rect x="698.8" y="12.8" width="467.7" height="410.7" fill="none" stroke="#000" stroke-width="2.0"/>
<g font-size="24.5" fill="#000">
<text x="600.8" y="24.3" font-size="28" letter-spacing="1.3">(<tspan font-style="italic">b</tspan>)</text>
<text x="688.3" y="21" text-anchor="end">1.0</text>
<text x="687" y="226.5" text-anchor="end">0.5</text>
<text x="687.5" y="432.5" text-anchor="end">0</text>
<text x="809.5" y="450.5" text-anchor="middle">0.5</text>
<text x="930" y="450.5" text-anchor="middle">1.0</text>
<text x="1048.5" y="450.5" text-anchor="middle">1.5</text>
<text x="1169.6" y="450.5" text-anchor="middle">2.0</text>
<text x="931" y="485.5" text-anchor="middle" font-style="italic" font-size="28">r</text>
<text x="606.8" y="225.6" font-style="italic" font-size="28">u<tspan font-size="19" dy="4.8" dx="0.3">θ</tspan></text>
<path d="M610.8 209 L614 204.9 L617.2 209" stroke="#000" stroke-width="1.3" fill="none" stroke-linejoin="miter"/>
<path d="M601.7 205.8 V230.7 M637 205.8 V230.7" stroke="#000" stroke-width="1.5" fill="none"/>
</g>
</g>
</svg>
</body></html>
